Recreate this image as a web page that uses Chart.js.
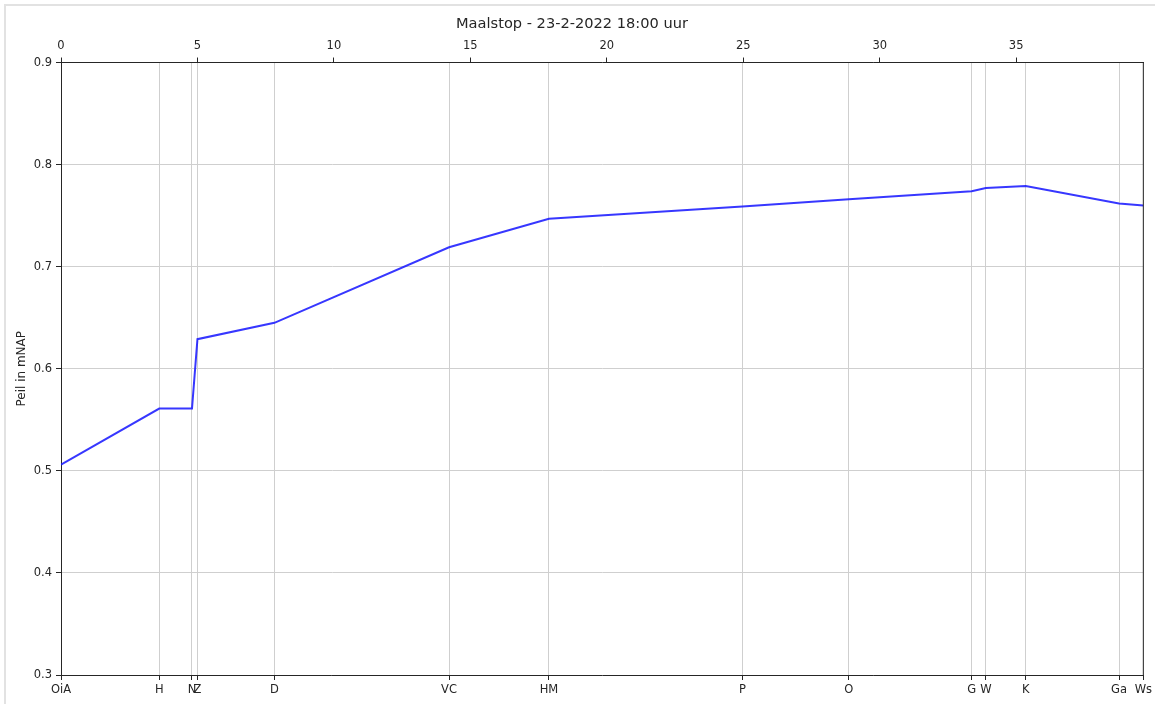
<!DOCTYPE html>
<html>
<head>
<meta charset="utf-8">
<script src="https://cdn.jsdelivr.net/npm/chart.js@4/dist/chart.umd.min.js"></script>
<style>
  html, body { margin: 0; padding: 0; background: #fff; }
  #wrap { position: relative; width: 1155px; height: 706px; }
  #frame {
    position: absolute; left: 4px; top: 4px; width: 1160px; height: 698px;
    border-top: 2px solid #e2e2e2; border-left: 2px solid #e2e2e2;
  }
  canvas { position: absolute; left: 0; top: 0; }
</style>
</head>
<body>
<div id="wrap">
  <div id="frame"></div>
  <canvas id="chart" width="1155" height="706"></canvas>
</div>
<script>
// stations along the route (km) and water level in mNAP
const stations = ["OiA", "H", "N", "Z", "D", "VC", "HM", "P", "O", "G", "W", "K", "Ga", "Ws"];
const distances = [0, 3.60, 4.80, 5.00, 7.82, 14.22, 17.88, 24.97, 28.87, 33.37, 33.89, 35.35, 38.77, 39.66];
const levels = [0.506, 0.561, 0.561, 0.629, 0.645, 0.719, 0.747, 0.759, 0.766, 0.774, 0.777, 0.779, 0.762, 0.760];
const topTicks = [0, 5, 10, 15, 20, 25, 30, 35];
const yTicks = [0.3, 0.4, 0.5, 0.6, 0.7, 0.8, 0.9];

const FONT = "'DejaVu Sans', sans-serif";
const DARK = "#262626";
const GRID = "#cfcfcf";
const xMax = distances[distances.length - 1];

// right hand spine, matplotlib style box
const rightSpine = {
  id: "rightSpine",
  afterDraw(chart) {
    const { ctx, chartArea } = chart;
    ctx.save();
    ctx.strokeStyle = DARK;
    ctx.lineWidth = 1;
    ctx.beginPath();
    ctx.moveTo(chartArea.right, chartArea.top);
    ctx.lineTo(chartArea.right, chartArea.bottom);
    ctx.stroke();
    ctx.restore();
  }
};

new Chart(document.getElementById("chart"), {
  type: "scatter",
  data: {
    datasets: [{
      data: distances.map((d, i) => ({ x: d, y: levels[i] })),
      showLine: true,
      borderColor: "rgba(20, 20, 255, 0.85)",
      borderWidth: 2,
      pointRadius: 0,
      tension: 0
    }]
  },
  options: {
    responsive: false,
    animation: false,
    devicePixelRatio: 1,
    layout: { padding: { left: 0, right: 11, top: 0, bottom: 0 } },
    plugins: {
      legend: { display: false },
      tooltip: { enabled: false },
      title: {
        display: true,
        text: "Maalstop - 23-2-2022 18:00 uur",
        color: DARK,
        font: { family: FONT, size: 14.6, weight: "normal" },
        padding: { top: 15, bottom: 0 }
      }
    },
    scales: {
      x: {
        type: "linear",
        position: "bottom",
        min: 0,
        max: xMax,
        afterBuildTicks: s => { s.ticks = distances.map(v => ({ value: v })); },
        afterFit: s => { s.height = 31; },
        ticks: {
          autoSkip: false,
          maxRotation: 0,
          color: DARK,
          padding: 3,
          font: { family: FONT, size: 11.5 },
          callback: (v, i) => stations[i]
        },
        grid: { color: GRID, tickColor: DARK, tickLength: 5 },
        border: { color: DARK }
      },
      x2: {
        type: "linear",
        position: "top",
        min: 0,
        max: xMax,
        afterBuildTicks: s => { s.ticks = topTicks.map(v => ({ value: v })); },
        afterFit: s => { s.height = 30; },
        ticks: {
          autoSkip: false,
          maxRotation: 0,
          color: DARK,
          padding: 5,
          font: { family: FONT, size: 11.5 }
        },
        grid: { drawOnChartArea: false, tickColor: DARK, tickLength: 5 },
        border: { color: DARK }
      },
      y: {
        min: 0.3,
        max: 0.9,
        afterBuildTicks: s => { s.ticks = yTicks.map(v => ({ value: v })); },
        afterFit: s => { s.width = 61; },
        ticks: {
          color: DARK,
          padding: 4,
          font: { family: FONT, size: 11.5 },
          callback: v => v.toFixed(1)
        },
        grid: { color: GRID, tickColor: DARK, tickLength: 5 },
        border: { color: DARK },
        title: {
          display: true,
          text: "Peil in mNAP",
          color: DARK,
          font: { family: FONT, size: 12 },
          padding: { top: 15, bottom: 0 }
        }
      }
    }
  },
  plugins: [rightSpine]
});
</script>
</body>
</html>
